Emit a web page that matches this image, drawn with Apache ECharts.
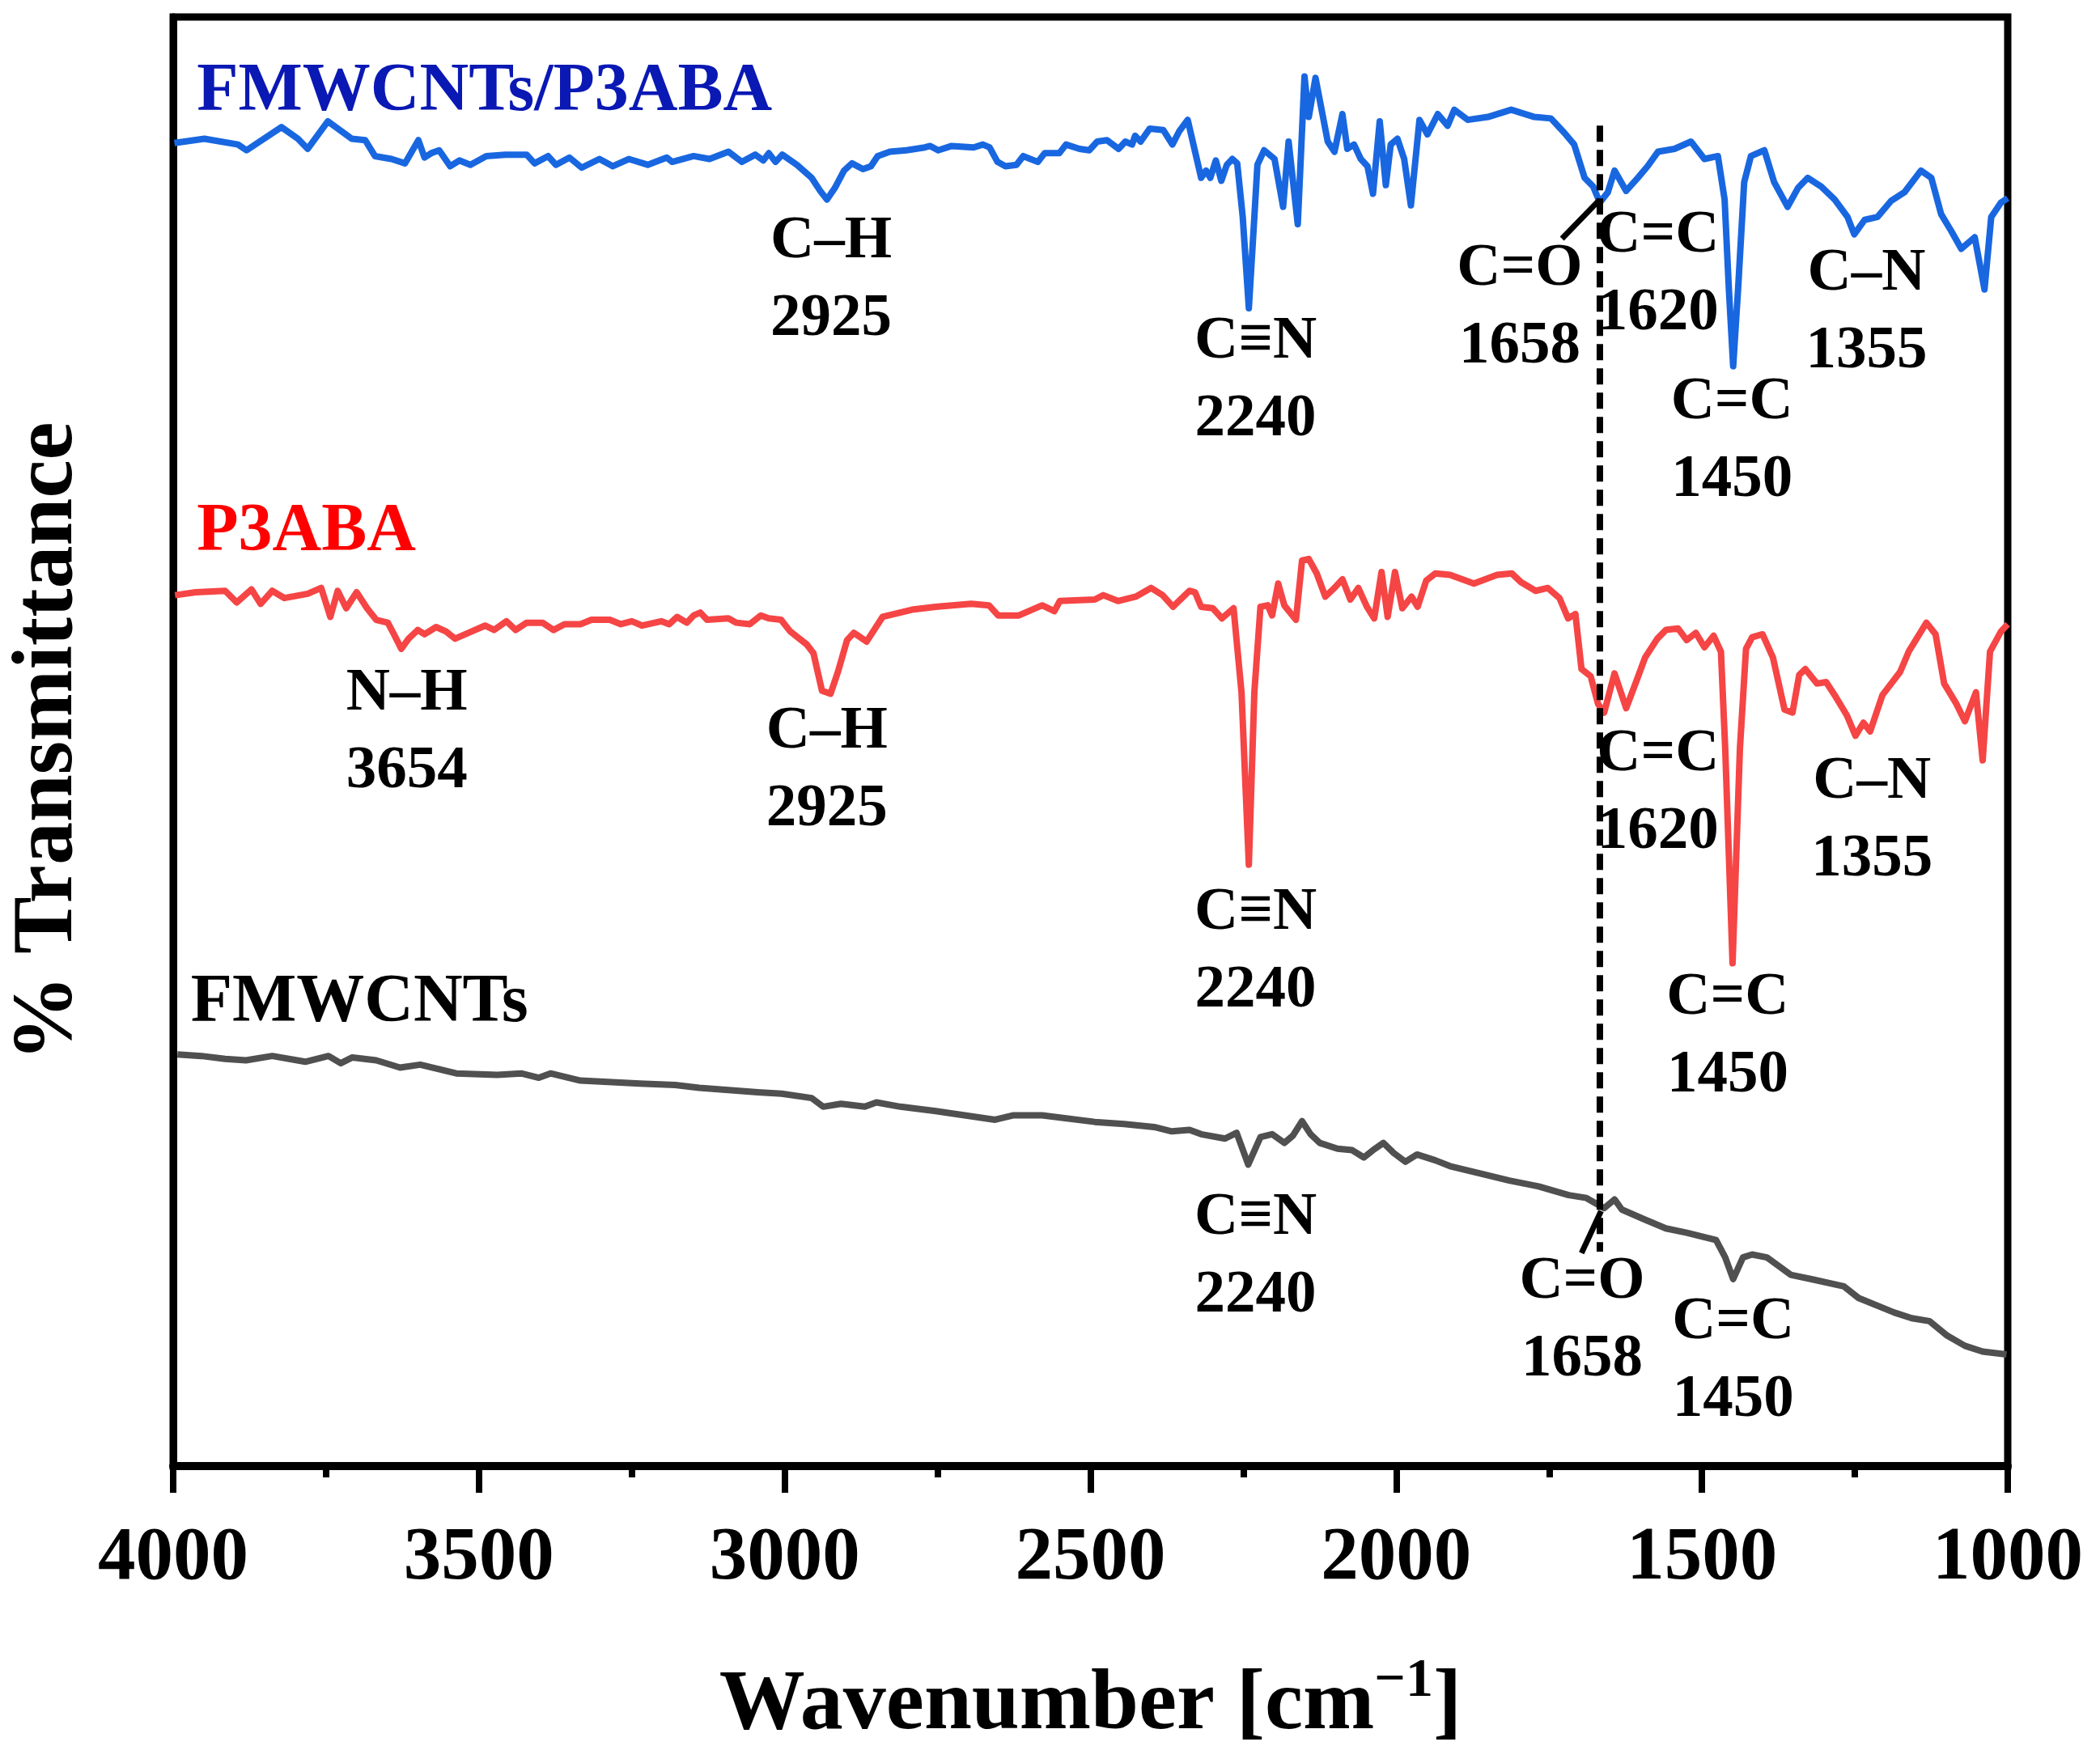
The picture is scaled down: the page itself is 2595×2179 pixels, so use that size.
<!DOCTYPE html>
<html>
<head>
<meta charset="utf-8">
<script src="https://cdn.jsdelivr.net/npm/echarts@6/dist/echarts.min.js"></script>
<style>
html, body { margin: 0; padding: 0; background: #fff; }
#ftir { width: 2595px; height: 2179px; }
</style>
</head>
<body>
<div id="ftir"></div>
<script>
// spectra: [wavenumber, transmittance (a.u., offset)]
var compositeData = [
  [3998, 91.3], [3949, 91.6], [3894, 91.2], [3880, 90.8], [3823, 92.4], [3796, 91.6], [3780, 90.9],
  [3747, 92.8], [3708, 91.6], [3686, 91.5], [3670, 90.4], [3643, 90.2], [3621, 89.9], [3599, 91.5],
  [3589, 90.3], [3578, 90.6], [3565, 90.8], [3547, 89.7], [3532, 90.1], [3514, 89.8], [3488, 90.4],
  [3457, 90.5], [3422, 90.5], [3409, 89.9], [3387, 90.4], [3374, 89.8], [3352, 90.3], [3332, 89.6],
  [3303, 90.2], [3281, 89.7], [3255, 90.2], [3224, 89.8], [3193, 90.3], [3184, 90.0], [3149, 90.4],
  [3123, 90.2], [3092, 90.7], [3070, 90.0], [3048, 90.5], [3035, 90.1], [3026, 90.6], [3015, 90.0],
  [3004, 90.5], [2980, 89.8], [2956, 88.9], [2942, 88.0], [2931, 87.4], [2918, 88.2], [2903, 89.4],
  [2890, 89.9], [2872, 89.5], [2859, 89.7], [2848, 90.4], [2828, 90.7], [2801, 90.8], [2771, 91.0],
  [2762, 91.1], [2749, 90.8], [2727, 91.1], [2691, 91.0], [2676, 91.2], [2665, 91.0], [2652, 90.0],
  [2639, 89.7], [2621, 89.8], [2610, 90.4], [2586, 90.0], [2575, 90.6], [2551, 90.6], [2540, 91.2],
  [2518, 90.9], [2502, 90.8], [2489, 91.4], [2473, 91.5], [2454, 90.9], [2443, 91.4], [2432, 91.2],
  [2427, 91.8], [2418, 91.4], [2403, 92.3], [2381, 92.2], [2366, 91.2], [2355, 92.1], [2341, 92.9],
  [2330, 90.9], [2319, 88.9], [2311, 89.4], [2304, 88.9], [2295, 90.1], [2286, 88.7], [2277, 89.8],
  [2268, 90.2], [2260, 89.9], [2251, 86.2], [2241, 79.9], [2232, 86.2], [2227, 89.8], [2216, 90.8],
  [2199, 90.2], [2185, 86.9], [2176, 91.4], [2161, 85.7], [2150, 95.9], [2143, 93.1], [2132, 95.8],
  [2112, 91.4], [2101, 90.7], [2088, 93.3], [2080, 90.9], [2069, 91.2], [2058, 90.2], [2047, 89.7],
  [2038, 87.8], [2027, 92.8], [2017, 88.4], [2009, 91.2], [1998, 91.6], [1987, 90.2], [1976, 87.0],
  [1962, 92.9], [1949, 91.9], [1932, 93.3], [1916, 92.5], [1905, 93.6], [1883, 92.9], [1850, 93.1],
  [1812, 93.6], [1774, 93.1], [1747, 93.0], [1725, 92.0], [1709, 91.2], [1692, 88.9], [1678, 88.3],
  [1667, 87.2], [1654, 87.9], [1643, 89.4], [1624, 88.0], [1605, 88.9], [1589, 89.7], [1572, 90.7],
  [1545, 90.9], [1518, 91.4], [1496, 90.2], [1474, 90.4], [1463, 87.4], [1456, 81.2], [1449, 75.9],
  [1441, 81.2], [1431, 88.6], [1420, 90.4], [1398, 90.8], [1382, 88.6], [1360, 86.9], [1343, 88.2],
  [1327, 88.9], [1305, 88.3], [1283, 87.4], [1262, 86.2], [1251, 85.0], [1234, 86.0], [1213, 86.2],
  [1191, 87.3], [1169, 87.9], [1142, 89.4], [1125, 88.9], [1109, 86.4], [1092, 85.2], [1076, 84.0],
  [1054, 84.8], [1038, 81.2], [1027, 86.2], [1011, 87.2], [1000, 87.5]
];

var polymerData = [
  [3997, 60.1], [3963, 60.3], [3915, 60.4], [3896, 59.6], [3872, 60.5], [3857, 59.5], [3838, 60.4],
  [3818, 59.9], [3780, 60.2], [3758, 60.6], [3743, 58.6], [3731, 60.4], [3717, 59.2], [3700, 60.3],
  [3683, 59.2], [3668, 58.4], [3649, 58.2], [3639, 57.4], [3627, 56.4], [3615, 57.1], [3600, 57.7],
  [3589, 57.4], [3570, 57.9], [3554, 57.6], [3539, 57.1], [3517, 57.5], [3490, 58.0], [3475, 57.7],
  [3455, 58.3], [3440, 57.7], [3422, 58.2], [3396, 58.2], [3378, 57.7], [3360, 58.1], [3334, 58.1],
  [3316, 58.4], [3299, 58.4], [3286, 58.4], [3268, 58.1], [3250, 58.3], [3233, 58.0], [3202, 58.3],
  [3189, 58.1], [3176, 58.6], [3160, 58.2], [3149, 58.7], [3138, 58.9], [3127, 58.4], [3092, 58.5],
  [3079, 58.2], [3057, 58.1], [3039, 58.7], [3026, 58.5], [3006, 58.4], [2991, 57.6], [2964, 56.7],
  [2953, 56.1], [2939, 53.5], [2925, 53.3], [2913, 54.8], [2898, 57.0], [2887, 57.5], [2866, 56.9],
  [2840, 58.6], [2792, 59.1], [2753, 59.3], [2695, 59.5], [2666, 59.4], [2651, 58.7], [2617, 58.7],
  [2579, 59.4], [2559, 59.0], [2550, 59.7], [2493, 59.8], [2479, 60.1], [2455, 59.7], [2426, 60.0],
  [2401, 60.6], [2382, 60.1], [2365, 59.3], [2338, 60.4], [2329, 60.3], [2319, 59.3], [2300, 59.2],
  [2285, 58.5], [2266, 59.2], [2253, 53.4], [2241, 41.5], [2232, 53.4], [2222, 59.3], [2210, 59.4],
  [2203, 58.7], [2193, 60.9], [2183, 59.4], [2164, 58.4], [2154, 62.5], [2143, 62.6], [2130, 61.6],
  [2116, 60.0], [2101, 60.6], [2088, 61.2], [2075, 59.8], [2062, 60.6], [2048, 59.3], [2036, 58.5],
  [2024, 61.7], [2014, 58.6], [2002, 61.7], [1990, 59.2], [1975, 60.0], [1965, 59.3], [1951, 61.1],
  [1936, 61.6], [1912, 61.5], [1873, 60.9], [1835, 61.5], [1811, 61.6], [1796, 61.0], [1772, 60.4],
  [1752, 60.6], [1733, 59.9], [1719, 58.5], [1707, 58.8], [1697, 55.0], [1682, 54.5], [1670, 52.6],
  [1660, 52.0], [1643, 54.7], [1624, 52.3], [1607, 54.2], [1593, 55.8], [1573, 57.1], [1559, 57.7],
  [1539, 57.8], [1525, 57.0], [1510, 57.5], [1496, 56.5], [1481, 57.3], [1469, 56.2], [1462, 49.5],
  [1450, 34.7], [1438, 49.5], [1428, 56.4], [1418, 57.2], [1401, 57.4], [1384, 55.8], [1365, 52.2],
  [1352, 52.0], [1341, 54.6], [1331, 55.0], [1312, 54.0], [1297, 54.1], [1283, 53.2], [1263, 51.8],
  [1249, 50.4], [1236, 51.3], [1225, 50.7], [1205, 53.2], [1176, 54.8], [1162, 56.2], [1133, 58.2],
  [1118, 57.4], [1104, 54.0], [1084, 52.6], [1070, 51.4], [1052, 53.4], [1041, 48.7], [1029, 56.2],
  [1011, 57.6], [1000, 58.1]
];

var tubesData = [
  [3993, 28.4], [3954, 28.3], [3915, 28.1], [3881, 28.0], [3838, 28.3], [3784, 27.9], [3746, 28.3],
  [3726, 27.8], [3707, 28.2], [3668, 28.0], [3629, 27.5], [3596, 27.7], [3537, 27.1], [3470, 27.0],
  [3431, 27.1], [3402, 26.8], [3383, 27.1], [3334, 26.6], [3237, 26.4], [3179, 26.3], [3140, 26.1],
  [3044, 25.8], [3005, 25.7], [2956, 25.4], [2937, 24.8], [2908, 25.0], [2869, 24.8], [2850, 25.1],
  [2811, 24.8], [2753, 24.5], [2656, 23.9], [2627, 24.2], [2579, 24.2], [2493, 23.75], [2445, 23.6],
  [2396, 23.4], [2367, 23.1], [2338, 23.2], [2319, 22.9], [2280, 22.6], [2261, 23.0], [2242, 20.8],
  [2222, 22.7], [2203, 22.9], [2183, 22.3], [2169, 22.8], [2154, 23.8], [2140, 22.9], [2125, 22.3],
  [2096, 21.9], [2072, 21.8], [2053, 21.3], [2038, 21.8], [2021, 22.3], [2004, 21.6], [1985, 21.0],
  [1966, 21.5], [1936, 21.1], [1912, 20.7], [1864, 20.2], [1815, 19.7], [1767, 19.3], [1718, 18.7],
  [1689, 18.5], [1660, 17.8], [1643, 18.4], [1631, 17.7], [1593, 17.0], [1559, 16.4], [1525, 16.1],
  [1477, 15.6], [1462, 14.4], [1449, 12.9], [1433, 14.4], [1418, 14.6], [1394, 14.4], [1355, 13.2],
  [1321, 12.9], [1268, 12.4], [1244, 11.6], [1186, 10.6], [1157, 10.2], [1128, 10.0], [1099, 9.0],
  [1070, 8.3], [1041, 7.9], [1002, 7.7]
];

var seriesNames = ['FMWCNTs/P3ABA', 'P3ABA', 'FMWCNTs'];
var seriesNameAt = [[3962, 94.8], [3962, 64.4], [3972, 31.9]];

// band assignments: [wavenumber, y, bond, band]
var peakNotes = [
  [2924, 81.8, 'C–H', '2925'],
  [2230, 74.9, 'C≡N', '2240'],
  [1798, 79.9, 'C=O', '1658'],
  [1572, 82.2, 'C=C', '1620'],
  [1451, 70.7, 'C=C', '1450'],
  [1231, 79.6, 'C–N', '1355'],
  [3618, 50.6, 'N–H', '3654'],
  [2931, 48.0, 'C–H', '2925'],
  [2230, 35.5, 'C≡N', '2240'],
  [1572, 46.4, 'C=C', '1620'],
  [1458, 29.6, 'C=C', '1450'],
  [1222, 44.5, 'C–N', '1355'],
  [2230, 14.4, 'C≡N', '2240'],
  [1696, 10.0, 'C=O', '1658'],
  [1449, 7.2, 'C=C', '1450']
];

var guideLine = [[1667, 92.5], [1667, 14.8]];
var pointerTop = [[1729, 84.7], [1667, 87.4]];
var pointerBottom = [[1697, 14.7], [1665, 17.6]];

var serif = "'Liberation Serif', 'Times New Roman', 'DejaVu Serif', serif";
var lineColors = ['#1967e0', '#f54545', '#505050'];
var nameColors = ['#0a18b4', '#ff0000', '#000000'];

var chart = echarts.init(document.getElementById('ftir'));

function spectrum(name, data, color) {
  return {
    name: name,
    type: 'line',
    data: data,
    symbol: 'none',
    smooth: false,
    lineStyle: { color: color, width: 8, join: 'round' },
    z: 3
  };
}

function segment(data, dashed) {
  return {
    type: 'line',
    data: data,
    symbol: 'none',
    silent: true,
    lineStyle: { color: '#000', width: dashed ? 8 : 7, type: dashed ? [20, 10] : 'solid' },
    z: 4
  };
}

var noteItems = peakNotes.map(function (n) {
  return { value: [n[0], n[1]], name: n[2] + '\n' + n[3] };
});

var nameItems = seriesNames.map(function (s, i) {
  return {
    value: seriesNameAt[i],
    name: s,
    label: { color: nameColors[i] }
  };
});

var option = {
  animation: false,
  backgroundColor: '#fff',
  grid: {
    left: 210, right: 114, top: 21, bottom: 366,
    show: true, borderColor: '#000', borderWidth: 9
  },
  xAxis: {
    type: 'value',
    min: 1000,
    max: 4000,
    interval: 500,
    inverse: true,
    axisLine: { show: true, lineStyle: { color: '#000', width: 10 } },
    axisTick: { show: true, inside: false, length: 33, lineStyle: { color: '#000', width: 8 } },
    minorTick: { show: true, splitNumber: 2, length: 14, lineStyle: { color: '#000', width: 8 } },
    splitLine: { show: false },
    axisLabel: {
      color: '#000', fontFamily: serif, fontWeight: 'bold', fontSize: 93, margin: 68,
      formatter: function (v) { return String(v); }
    },
    name: 'Wavenumber [cm{sup|−1}]',
    nameLocation: 'middle',
    nameGap: 232,
    nameTextStyle: {
      color: '#000', fontFamily: serif, fontWeight: 'bold', fontSize: 106, lineHeight: 130,
      rich: {
        sup: { fontFamily: serif, fontWeight: 'bold', fontSize: 68, lineHeight: 68, verticalAlign: 'top', color: '#000' }
      }
    }
  },
  yAxis: {
    type: 'value',
    min: 0,
    max: 100,
    axisLine: { show: true, lineStyle: { color: '#000', width: 9 } },
    axisTick: { show: false },
    axisLabel: { show: false },
    splitLine: { show: false },
    name: '% Transmittance',
    nameLocation: 'middle',
    nameGap: 100,
    nameTextStyle: { color: '#000', fontFamily: serif, fontWeight: 'bold', fontSize: 106 }
  },
  series: [
    spectrum(seriesNames[0], compositeData, lineColors[0]),
    spectrum(seriesNames[1], polymerData, lineColors[1]),
    spectrum(seriesNames[2], tubesData, lineColors[2]),
    segment(guideLine, true),
    segment(pointerTop, false),
    segment(pointerBottom, false),
    {
      type: 'scatter',
      data: noteItems,
      symbolSize: 1,
      itemStyle: { color: 'rgba(0,0,0,0)', opacity: 1 },
      silent: true,
      z: 5,
      label: {
        show: true,
        position: 'inside',
        formatter: '{b}',
        color: '#000',
        fontFamily: serif,
        fontWeight: 'bold',
        fontSize: 75,
        lineHeight: 96,
        align: 'center',
        verticalAlign: 'middle'
      }
    },
    {
      type: 'scatter',
      data: nameItems,
      symbolSize: 1,
      itemStyle: { color: 'rgba(0,0,0,0)', opacity: 1 },
      silent: true,
      z: 5,
      label: {
        show: true,
        position: 'right',
        distance: 0,
        formatter: '{b}',
        fontFamily: serif,
        fontWeight: 'bold',
        fontSize: 84
      }
    }
  ]
};

chart.setOption(option);
</script>
</body>
</html>
